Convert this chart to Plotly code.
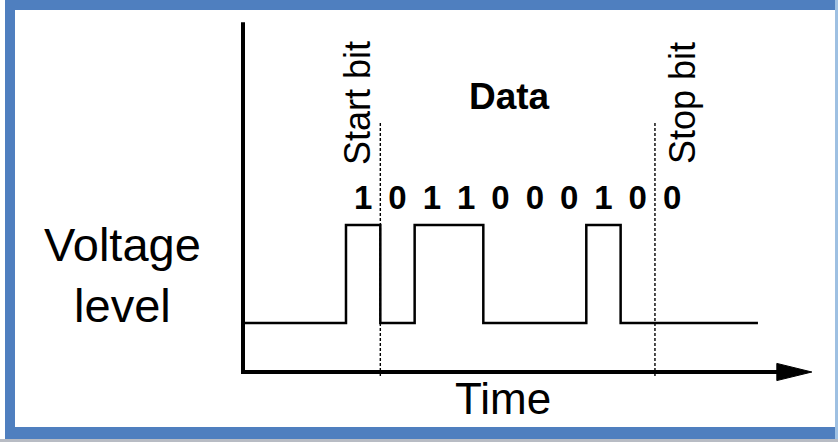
import plotly.graph_objects as go

# Serial frame: signal levels (low = 1, high = 3) at each edge time (bit periods)
edge_time = [0, 3, 4, 5, 7, 10, 11, 15]
edge_level = [1, 3, 1, 3, 1, 3, 1, 1]

# bit labels printed above the waveform, one per bit period starting at t=3
bit_labels = ["1", "0", "1", "1", "0", "0", "0", "1", "0", "0"]
first_bit = 3

# frame boundaries (dashed) and their labels
boundary_time = [4, 12]
boundary_names = ["Start bit", "Stop bit"]
boundary_label_x = [3.35, 12.82]

FONT = "Liberation Sans"
BLUE = "#4f7fbf"

fig = go.Figure()

# step waveform
fig.add_trace(go.Scatter(
    x=edge_time, y=edge_level, mode="lines", line_shape="hv",
    line=dict(color="black", width=2.5), hoverinfo="skip", showlegend=False,
))

# dashed frame markers
for t in boundary_time:
    fig.add_trace(go.Scatter(
        x=[t, t], y=[-0.08, 5.08], mode="lines",
        line=dict(color="black", width=1.4, dash="3px,2px"),
        hoverinfo="skip", showlegend=False,
    ))

# bit values
fig.add_trace(go.Scatter(
    x=[first_bit + i + 0.5 for i in range(len(bit_labels))],
    y=[3.49] * len(bit_labels),
    mode="text", text=bit_labels,
    textfont=dict(family=FONT, size=33, color="black", weight="bold"),
    hoverinfo="skip", showlegend=False,
))

# axes drawn as shapes
fig.add_shape(type="line", x0=0, x1=0, y0=-0.04, y1=7.14, xref="x", yref="y",
              line=dict(color="black", width=4))
fig.add_shape(type="line", x0=-0.04, x1=15.8, y0=0, y1=0, xref="x", yref="y",
              line=dict(color="black", width=4))
fig.add_shape(type="path", path="M 15.55,0.175 L 16.57,0 L 15.55,-0.175 Z",
              xref="x", yref="y", fillcolor="black", line=dict(color="black", width=1))

# labels
for name, lx in zip(boundary_names, boundary_label_x):
    fig.add_annotation(x=lx, y=5.49, text=name, textangle=-90, showarrow=False,
                       xanchor="center", yanchor="middle",
                       font=dict(family=FONT, size=36, color="black"))
fig.add_annotation(x=7.75, y=5.63, text="<b>Data</b>", showarrow=False,
                   font=dict(family=FONT, size=37, color="black"))
fig.add_annotation(x=7.57, y=-0.55, text="Time", showarrow=False,
                   font=dict(family=FONT, size=44, color="black"))
fig.add_annotation(x=-3.5, y=1.97, text="Voltage<br>level", showarrow=False,
                   align="center",
                   font=dict(family=FONT, size=47, color="black"))

# blue frame around the picture
def px_rect(x0, x1, y0, y1, color):
    fig.add_shape(type="rect", xref="paper", yref="paper",
                  x0=x0 / 838, x1=x1 / 838, y0=1 - y1 / 442, y1=1 - y0 / 442,
                  fillcolor=color, line=dict(width=0), layer="above")

px_rect(5, 15, 0, 439, BLUE)
px_rect(5, 838, 0, 10, BLUE)
px_rect(5, 838, 427, 439, BLUE)
px_rect(835, 838, 0, 439, "#9ec0e2")
px_rect(0, 838, 439, 442, "#b8bcc4")

fig.update_layout(
    width=838, height=442,
    margin=dict(l=0, r=0, t=0, b=0),
    paper_bgcolor="white", plot_bgcolor="white",
    xaxis=dict(range=[-243 / 34.33, (838 - 243) / 34.33], visible=False, fixedrange=True),
    yaxis=dict(range=[-70 / 49, 372 / 49], visible=False, fixedrange=True),
    showlegend=False,
)

fig.write_html("out.html", config={"displayModeBar": False},
               post_script="document.body.style.margin='0';document.body.style.overflow='hidden';")
